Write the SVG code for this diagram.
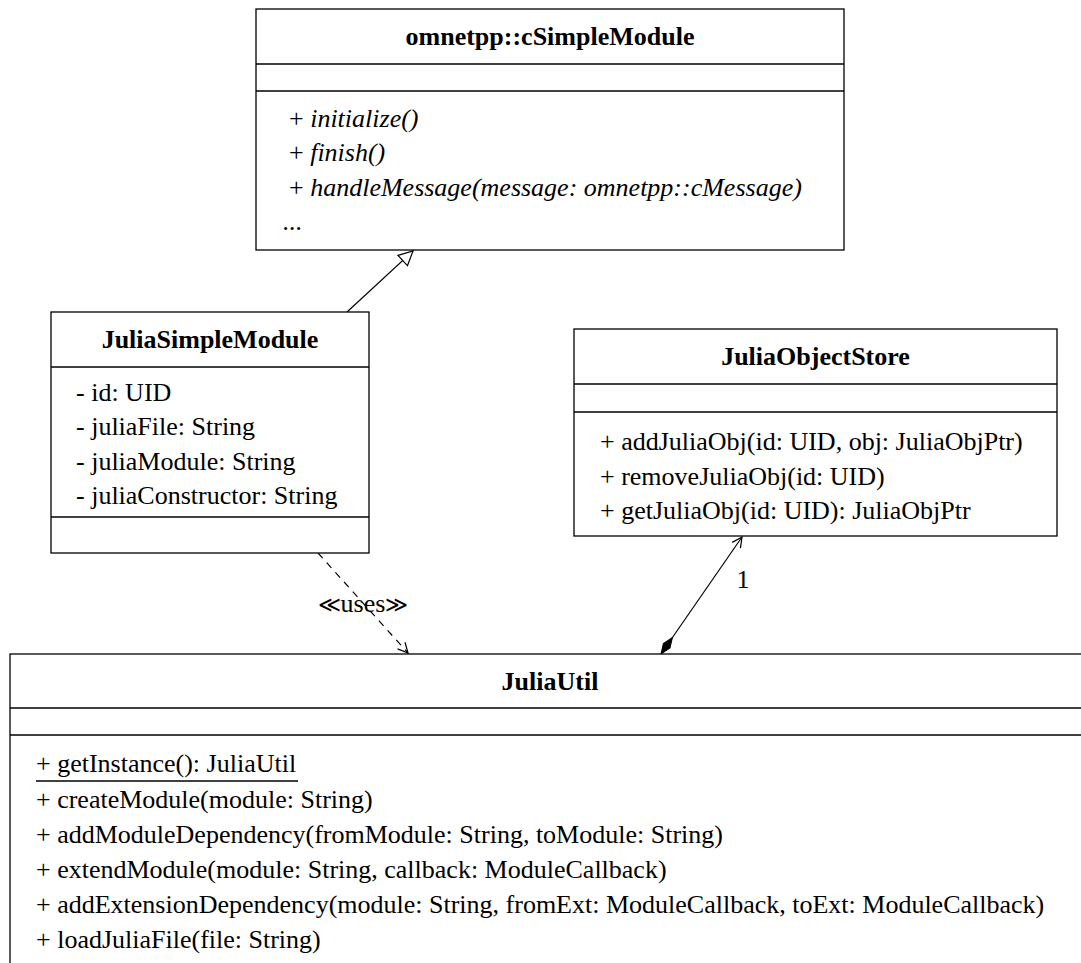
<svg xmlns="http://www.w3.org/2000/svg" width="1081" height="963" viewBox="0 0 1081 963">
  <style>
    .box { fill: #fff; stroke: #000; stroke-width: 1.3; }
    .sep { stroke: #000; stroke-width: 1.3; }
    .txt { font-family: "Liberation Serif", "Times New Roman", serif; font-size: 26px; fill: #000; }
    .title { font-weight: bold; text-anchor: middle; }
    .abs { font-style: italic; }
    .guil { font-family: "DejaVu Serif", "Liberation Serif", serif; font-size: 22px; font-weight: normal; }
    .edge { fill: none; stroke: #000; stroke-width: 1.2; }
    .dash { stroke-dasharray: 7 6; }
  </style>
  <defs>
    <marker id="hollowTri" viewBox="0 0 16 16" refX="15" refY="8" markerWidth="16" markerHeight="16" markerUnits="userSpaceOnUse" orient="auto">
      <path d="M1,1 L15,8 L1,15 Z" fill="#fff" stroke="#000" stroke-width="1.2"/>
    </marker>
    <marker id="openArrow" viewBox="0 0 12 12" refX="11" refY="6" markerWidth="12" markerHeight="12" markerUnits="userSpaceOnUse" orient="auto">
      <path d="M1,1 L11,6 L1,11" fill="none" stroke="#000" stroke-width="1.2"/>
    </marker>
    <marker id="filledDiamond" viewBox="0 0 22 10" refX="1" refY="5" markerWidth="22" markerHeight="10" markerUnits="userSpaceOnUse" orient="auto">
      <path d="M1,5 L11,1 L21,5 L11,9 Z" fill="#000" stroke="#000" stroke-width="1"/>
    </marker>
  </defs>

  <!-- connectors -->
  <g id="connectors">
    <!-- generalization: JuliaSimpleModule -> omnetpp::cSimpleModule -->
    <line class="edge" x1="347" y1="312" x2="413" y2="251" marker-end="url(#hollowTri)"/>
    <!-- dependency: JuliaSimpleModule uses JuliaUtil -->
    <line class="edge dash" x1="318" y1="553" x2="408" y2="653" marker-end="url(#openArrow)"/>
    <text class="txt" x="363" y="612" text-anchor="middle"><tspan class="guil">≪</tspan>uses<tspan class="guil">≫</tspan></text>
    <!-- composition: JuliaUtil owns one JuliaObjectStore -->
    <line class="edge" x1="661" y1="654" x2="742" y2="537" marker-start="url(#filledDiamond)" marker-end="url(#openArrow)"/>
    <text class="txt" x="743" y="588" text-anchor="middle">1</text>
  </g>

  <!-- omnetpp::cSimpleModule -->
  <g id="cSimpleModule">
    <rect class="box" x="256" y="9" width="588" height="241"/>
    <line class="sep" x1="256" y1="64" x2="844" y2="64"/>
    <line class="sep" x1="256" y1="91" x2="844" y2="91"/>
    <text class="txt title" x="550" y="45">omnetpp::cSimpleModule</text>
    <text class="txt" x="289" y="127">+ <tspan class="abs">initialize()</tspan></text>
    <text class="txt" x="289" y="161">+ <tspan class="abs">finish()</tspan></text>
    <text class="txt" x="289" y="196">+ <tspan class="abs">handleMessage(message: omnetpp::cMessage)</tspan></text>
    <text class="txt abs" x="283" y="230">...</text>
  </g>

  <!-- JuliaSimpleModule -->
  <g id="JuliaSimpleModule">
    <rect class="box" x="51" y="312" width="318" height="241"/>
    <line class="sep" x1="51" y1="367" x2="369" y2="367"/>
    <line class="sep" x1="51" y1="517" x2="369" y2="517"/>
    <text class="txt title" x="210" y="348">JuliaSimpleModule</text>
    <text class="txt" x="76" y="401">- id: UID</text>
    <text class="txt" x="76" y="435">- juliaFile: String</text>
    <text class="txt" x="76" y="470">- juliaModule: String</text>
    <text class="txt" x="76" y="504">- juliaConstructor: String</text>
  </g>

  <!-- JuliaObjectStore -->
  <g id="JuliaObjectStore">
    <rect class="box" x="574" y="329" width="483" height="207"/>
    <line class="sep" x1="574" y1="384" x2="1057" y2="384"/>
    <line class="sep" x1="574" y1="412" x2="1057" y2="412"/>
    <text class="txt title" x="815.5" y="365">JuliaObjectStore</text>
    <text class="txt" x="600" y="450">+ addJuliaObj(id: UID, obj: JuliaObjPtr)</text>
    <text class="txt" x="600" y="485">+ removeJuliaObj(id: UID)</text>
    <text class="txt" x="600" y="519">+ getJuliaObj(id: UID): JuliaObjPtr</text>
  </g>

  <!-- JuliaUtil (extends past the right border) -->
  <g id="JuliaUtil">
    <rect class="box" x="10" y="654" width="1090" height="330"/>
    <line class="sep" x1="10" y1="708" x2="1100" y2="708"/>
    <line class="sep" x1="10" y1="735" x2="1100" y2="735"/>
    <text class="txt title" x="550" y="690">JuliaUtil</text>
    <text class="txt" x="36" y="772">+ getInstance(): JuliaUtil</text>
    <line class="sep" x1="36" y1="781" x2="298" y2="781"/>
    <text class="txt" x="36" y="808">+ createModule(module: String)</text>
    <text class="txt" x="36" y="843">+ addModuleDependency(fromModule: String, toModule: String)</text>
    <text class="txt" x="36" y="878">+ extendModule(module: String, callback: ModuleCallback)</text>
    <text class="txt" x="36" y="913">+ addExtensionDependency(module: String, fromExt: ModuleCallback, toExt: ModuleCallback)</text>
    <text class="txt" x="36" y="948">+ loadJuliaFile(file: String)</text>
  </g>
</svg>
